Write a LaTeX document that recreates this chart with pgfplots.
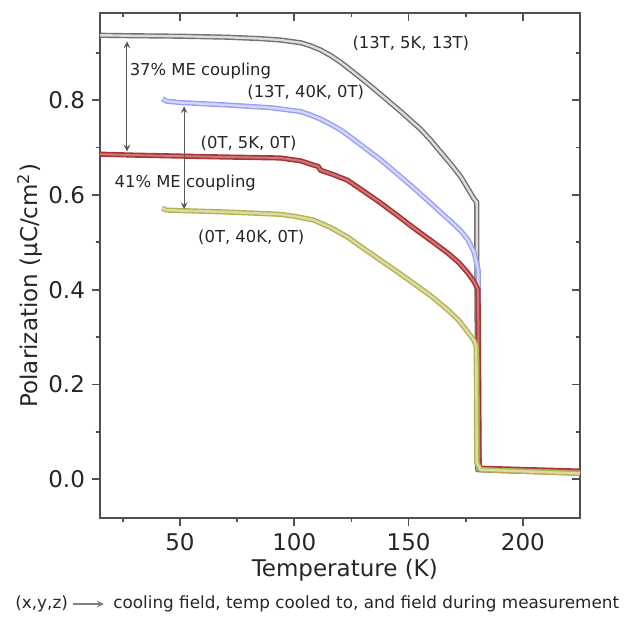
\documentclass[border=0pt]{standalone}
\usepackage{fontspec}
\setmainfont{DejaVu Sans}
\usepackage{pgfplots}
\pgfplotsset{compat=1.18}
\usepackage{pgfplotstable}

\definecolor{axisgray}{HTML}{505050}
\definecolor{blkedge}{HTML}{707070}
\definecolor{blkin}{HTML}{DCDCDC}
\definecolor{bluedge}{HTML}{9AA0F0}
\definecolor{bluin}{HTML}{D2D6FA}
\definecolor{rededge}{HTML}{A83434}
\definecolor{redin}{HTML}{CC7878}
\definecolor{yeledge}{HTML}{B2B255}
\definecolor{yelin}{HTML}{DCDCA2}

\pgfplotstableread{
T P
15 0.937
30 0.936
50 0.935
70 0.933
85 0.930
94 0.927
103 0.921
107 0.915
111.5 0.906
116 0.894
120.3 0.880
124.6 0.864
129 0.847
133.4 0.830
137.8 0.812
142.2 0.794
146.6 0.776
151 0.757
155.4 0.738
159.8 0.715
164.1 0.690
168.5 0.665
172.9 0.638
176 0.613
178.6 0.592
179.8 0.585
180.2 0.020
190 0.018
225 0.013
}\blackdata

\pgfplotstableread{
T P
42.2 0.803
44 0.798
50 0.795
70 0.790
90 0.784
102.7 0.776
107 0.769
111.5 0.760
116 0.749
120.3 0.737
124.6 0.722
129 0.706
133.4 0.690
137.8 0.674
142.2 0.656
146.6 0.638
151 0.620
155.4 0.601
159.8 0.582
164.1 0.563
168.5 0.544
172.9 0.524
176 0.505
178.6 0.480
180.5 0.440
180.8 0.022
190 0.019
225 0.014
}\bluedata

\pgfplotstableread{
T P
15 0.686
30 0.684
50 0.682
70 0.680
93.9 0.678
102.7 0.672
108.4 0.663
110.5 0.660
111.5 0.652
117 0.643
123.3 0.631
130 0.609
137.8 0.583
145 0.557
152.3 0.530
160 0.503
167.2 0.477
172 0.457
176 0.435
178.5 0.418
180.4 0.400
180.9 0.025
182 0.023
225 0.017
}\reddata

\pgfplotstableread{
T P
42.2 0.572
44 0.568
50 0.567
70 0.564
85 0.561
93.9 0.559
100 0.555
108.4 0.547
116 0.531
123.3 0.511
130 0.488
137.8 0.462
145 0.438
152.3 0.413
160 0.386
167.2 0.357
172 0.335
176 0.310
178.6 0.293
179.6 0.280
179.8 0.035
181.5 0.020
225 0.012
}\yeldata

\begin{document}
\begin{tikzpicture}
\useasboundingbox (-50pt,-49.5pt) rectangle (263pt,259pt);
\pgfplotsset{
  common/.style={
    width=240pt, height=252.5pt, scale only axis,
    xmin=15, xmax=225, ymin=-0.082, ymax=0.984,
    xtick={50,100,150,200}, minor xtick={25,75,125,175},
    ytick={0,0.2,0.4,0.6,0.8}, minor ytick={0.1,0.3,0.5,0.7,0.9},
    major tick length=4pt, minor tick length=2pt,
    every tick/.style={axisgray, line width=0.9pt},
  }
}
\begin{axis}[common,
  xtick pos=bottom, ytick pos=left, tick align=outside,
  axis line style={axisgray, line width=1.1pt},
  /pgf/number format/assume math mode=true,
  tick label style={font=\fontsize{11.5}{13}\selectfont, text=black!85},
  yticklabel style={/pgf/number format/.cd, fixed, fixed zerofill, precision=1},
  xlabel={Temperature (K)},
  ylabel={Polarization (μC/cm\textsuperscript{2})},
  label style={font=\fontsize{11.5}{14}\selectfont, text=black!85},
  xlabel style={at={(axis description cs:0.51,-0.103)}, anchor=center},
  ylabel style={at={(axis description cs:-0.146,0.46)}, anchor=center},
]
\addplot[blkedge, line width=2.6pt, line join=round] table[x=T,y=P] {\blackdata};
\addplot[blkin, line width=1.2pt, line join=round] table[x=T,y=P] {\blackdata};
\addplot[bluedge, line width=2.6pt, line join=round] table[x=T,y=P] {\bluedata};
\addplot[bluin, line width=1.2pt, line join=round] table[x=T,y=P] {\bluedata};
\addplot[rededge, line width=2.6pt, line join=round] table[x=T,y=P] {\reddata};
\addplot[redin, line width=1.0pt, line join=round] table[x=T,y=P] {\reddata};
\addplot[yeledge, line width=2.6pt, line join=round] table[x=T,y=P] {\yeldata};
\addplot[yelin, line width=1.2pt, line join=round] table[x=T,y=P] {\yeldata};

\draw[<->, >=stealth, gray!70!black, line width=0.5pt] (axis cs:26.8,0.924) -- (axis cs:26.8,0.692);
\draw[<->, >=stealth, gray!70!black, line width=0.5pt] (axis cs:51.8,0.787) -- (axis cs:51.8,0.570);

\begin{scope}[every node/.style={font=\fontsize{8.2}{10}\selectfont, text=black!85, inner sep=0pt}]
\node at (axis cs:151,0.920) {(13T, 5K, 13T)};
\node at (axis cs:105,0.817) {(13T, 40K, 0T)};
\node at (axis cs:80,0.709) {(0T, 5K, 0T)};
\node at (axis cs:52.3,0.625) {41\% ME coupling};
\node at (axis cs:58.9,0.861) {37\% ME coupling};
\node at (axis cs:81.2,0.511) {(0T, 40K, 0T)};
\end{scope}
\end{axis}
\begin{axis}[common,
  xtick pos=top, ytick pos=right, tick align=inside,
  xticklabels={}, yticklabels={},
  axis line style={draw=none},
]
\end{axis}
\begin{scope}[every node/.style={font=\fontsize{8.4}{10}\selectfont, text=black!85, inner sep=0pt}]
\node[anchor=west] at (-42.5pt,-43pt) {(x,y,z)};
\draw[-stealth, gray, line width=0.6pt] (-13.5pt,-43pt) -- (2pt,-43pt);
\node[anchor=west] at (6.5pt,-43pt) {cooling field, temp cooled to, and field during measurement};
\end{scope}
\end{tikzpicture}
\end{document}
